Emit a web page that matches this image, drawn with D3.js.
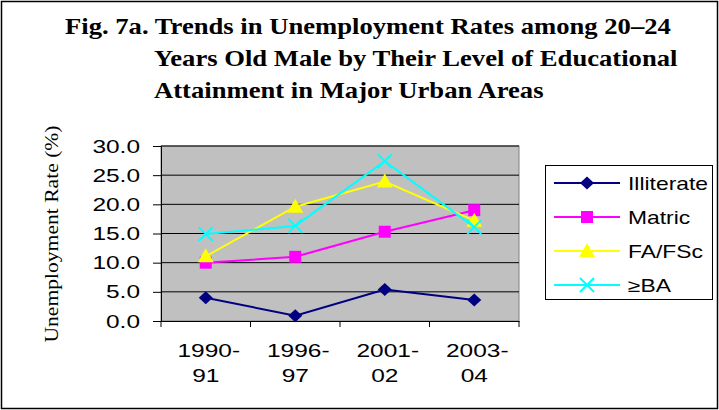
<!DOCTYPE html>
<html>
<head>
<meta charset="utf-8">
<script src="https://cdn.jsdelivr.net/npm/d3@7"></script>
<style>
  body { margin: 0; background: #fff; }
</style>
</head>
<body>
<div id="chart"></div>
<script>
// categories and series
var periods = ["1990-91", "1996-97", "2001-02", "2003-04"];
var illiterate = [4.0, 0.9, 5.4, 3.6];
var matric = [10.0, 11.0, 15.3, 19.0];
var fafsc = [11.1, 19.6, 23.9, 17.2];
var ba = [14.9, 16.3, 27.4, 16.1];
var yTicks = [0, 5, 10, 15, 20, 25, 30];
var titleLines = [
    "Fig. 7a. Trends in Unemployment Rates among 20\u201324",
    "Years Old Male by Their Level of Educational",
    "Attainment in Major Urban Areas"
];

var series = [
    { name: "Illiterate", values: illiterate, color: "#000080", marker: "diamond" },
    { name: "Matric", values: matric, color: "#FF00FF", marker: "square" },
    { name: "FA/FSc", values: fafsc, color: "#FFFF00", marker: "triangle" },
    { name: "\u2265BA", values: ba, color: "#00FFFF", marker: "cross" }
];

var W = 719, H = 410;
var plot = { left: 161, right: 519, top: 146, bottom: 321 };
var sans = "'Liberation Sans', Arial, sans-serif";
var serif = "'Liberation Serif', 'Times New Roman', serif";
var stretch = 1.36; // the original's labels are drawn wide

var svg = d3.select("#chart").append("svg")
    .attr("width", W)
    .attr("height", H);

// outer frame
svg.append("rect")
    .attr("x", 1.5).attr("y", 1.5)
    .attr("width", W - 3).attr("height", H - 3)
    .attr("fill", "#fff")
    .attr("stroke", "#000")
    .attr("stroke-width", 1.5);

// helper: text placed at (x,y) and stretched sideways
function wideText(parent, x, y, sx, str, anchor) {
    return parent.append("text")
        .attr("transform", "translate(" + x + "," + y + ") scale(" + sx + ",1)")
        .attr("text-anchor", anchor || "start")
        .text(str);
}

// title
titleLines.forEach(function (t, i) {
    wideText(svg, i === 0 ? 65 : 154, 34 + i * 32, 1.11, t)
        .style("font-family", serif)
        .style("font-weight", "bold")
        .style("font-size", "24px");
});

// scales
var x = d3.scaleBand()
    .domain(periods)
    .range([plot.left, plot.right]);

var y = d3.scaleLinear()
    .domain([0, 30])
    .range([plot.bottom, plot.top]);

// plot area
svg.append("rect")
    .attr("x", plot.left).attr("y", plot.top)
    .attr("width", plot.right - plot.left)
    .attr("height", plot.bottom - plot.top)
    .attr("fill", "#C0C0C0")
    .attr("stroke", "#808080")
    .attr("stroke-width", 1);

// gridlines
svg.selectAll(".grid")
    .data(yTicks.slice(1))
    .enter().append("line")
    .attr("x1", plot.left).attr("x2", plot.right)
    .attr("y1", function (d) { return y(d); })
    .attr("y2", function (d) { return y(d); })
    .attr("stroke", "#000")
    .attr("stroke-width", 1);

// Y axis
var yAxis = svg.append("g")
    .attr("transform", "translate(" + plot.left + ",0)")
    .call(d3.axisLeft(y).tickValues(yTicks).tickFormat(d3.format(".1f")).tickSizeOuter(0).tickSize(8));
yAxis.selectAll("text").remove();
yAxis.select(".domain").attr("stroke", "#000");
yTicks.forEach(function (v) {
    wideText(svg, 140, y(v) + 6.5, stretch, d3.format(".1f")(v), "end")
        .style("font-family", sans)
        .style("font-size", "18px");
});

// X axis
var xAxis = svg.append("g")
    .attr("transform", "translate(0," + plot.bottom + ")")
    .call(d3.axisBottom(x).tickSize(0).tickSizeOuter(0).tickFormat(""));
xAxis.selectAll(".tick").remove();
var bounds = periods.map(function (d) { return x(d); }).concat([x.range()[1]]);
xAxis.selectAll(".bound")
    .data(bounds)
    .enter().append("line")
    .attr("x1", function (d) { return d; })
    .attr("x2", function (d) { return d; })
    .attr("y1", 0).attr("y2", 6)
    .attr("stroke", "#000");

periods.forEach(function (p) {
    var cx = x(p) + x.bandwidth() / 2;
    var parts = p.split("-");
    wideText(svg, cx + 3, 357, stretch, parts[0] + "-", "middle")
        .style("font-family", sans).style("font-size", "18px");
    wideText(svg, cx, 382, stretch, parts[1], "middle")
        .style("font-family", sans).style("font-size", "18px");
});

// Y axis title
svg.append("text")
    .attr("transform", "translate(58,234) rotate(-90) scale(1.2,1)")
    .attr("text-anchor", "middle")
    .style("font-family", serif)
    .style("font-size", "18px")
    .text("Unemployment Rate (%)");

// markers
function drawMarker(g, type, color) {
    if (type === "diamond") {
        g.append("path").attr("d", "M0,-6.5L7,0L0,6.5L-7,0Z")
            .attr("fill", color);
    } else if (type === "square") {
        g.append("rect").attr("x", -6).attr("y", -6).attr("width", 12).attr("height", 12)
            .attr("fill", color);
    } else if (type === "triangle") {
        g.append("path").attr("d", "M0,-8L8,6L-8,6Z").attr("fill", color);
    } else {
        g.append("path").attr("d", "M-7,-7L7,7M-7,7L7,-7")
            .attr("stroke", color).attr("stroke-width", 2).attr("fill", "none");
    }
}

var line = d3.line()
    .x(function (d, i) { return x(periods[i]) + x.bandwidth() / 2; })
    .y(function (d) { return y(d); });

series.forEach(function (s) {
    svg.append("path")
        .datum(s.values)
        .attr("d", line)
        .attr("fill", "none")
        .attr("stroke", s.color)
        .attr("stroke-width", 2);
    s.values.forEach(function (v, i) {
        var g = svg.append("g")
            .attr("transform", "translate(" + (x(periods[i]) + x.bandwidth() / 2) + "," + y(v) + ")");
        drawMarker(g, s.marker, s.color);
    });
});

// legend
var lg = svg.append("g");
lg.append("rect")
    .attr("x", 545.5).attr("y", 165.5)
    .attr("width", 167).attr("height", 134)
    .attr("fill", "#fff")
    .attr("stroke", "#000");
series.forEach(function (s, i) {
    var ly = 183 + i * 34;
    lg.append("line")
        .attr("x1", 554).attr("x2", 620)
        .attr("y1", ly).attr("y2", ly)
        .attr("stroke", s.color).attr("stroke-width", 2);
    var g = lg.append("g").attr("transform", "translate(587," + ly + ")");
    drawMarker(g, s.marker, s.color);
    wideText(lg, 628, ly + 7, 1.27, s.name)
        .style("font-family", sans)
        .style("font-size", "18px");
});
</script>
</body>
</html>
